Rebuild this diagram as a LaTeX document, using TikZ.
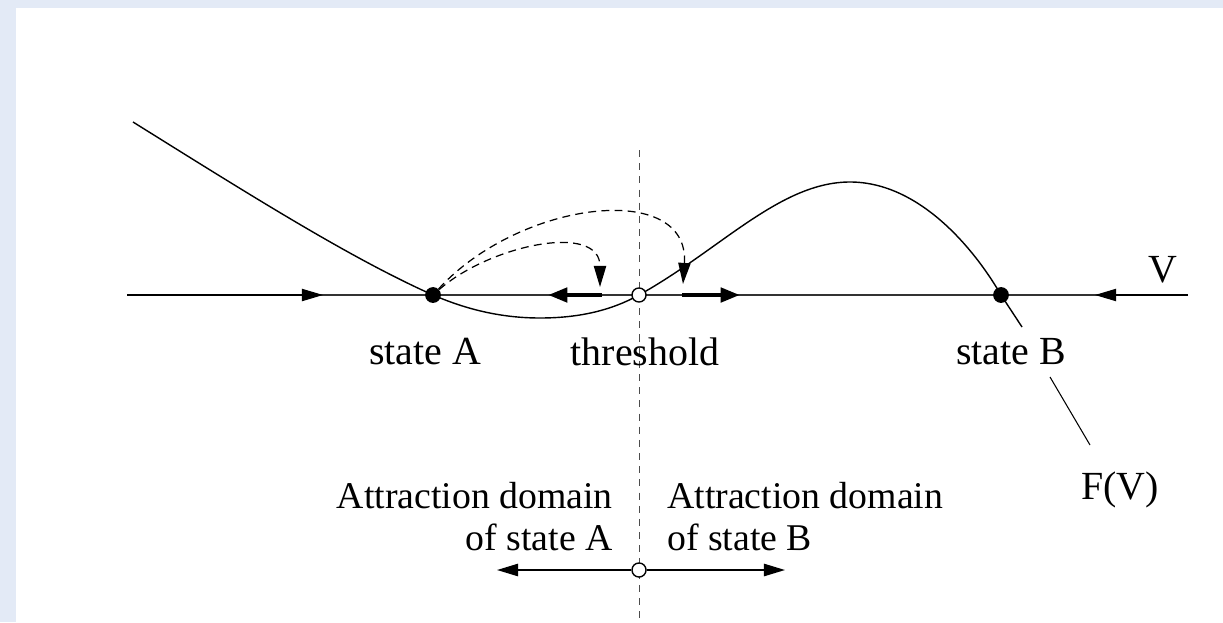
\documentclass[tikz,border=0pt]{standalone}
\usepackage{fontspec}
\setmainfont{Liberation Serif}
\usetikzlibrary{arrows.meta}
\definecolor{paper}{RGB}{227,234,246}
\begin{document}
\begin{tikzpicture}[x=0.02cm, y=-0.02cm, font=\fontsize{22.7}{24}\selectfont,
    dot/.style={circle, fill, inner sep=0pt, minimum size=9pt},
    opendot/.style={circle, draw, fill=white, inner sep=0pt, minimum size=8pt, line width=0.8pt},
    tri/.style={-{Triangle[length=12pt,width=7pt]}},
    label/.style={inner sep=0pt, align=center},
    domaintext/.style={inner sep=0pt, font=\fontsize{21.5}{24}\selectfont}]
        \fill[paper] (0,0) rectangle (1223,622);
        \fill[white] (16,8) rectangle (1223,622);
        \useasboundingbox (0,0) rectangle (1223,622);

        % axis and threshold line
        \coordinate (axleft) at (127,295);
        \coordinate (axright) at (1188,295);
        \coordinate (threshtop) at (639,150);
        \coordinate (threshbot) at (639,622);
        \draw[black!80, line width=0.6pt] (axleft) -- (axright);
        \draw[black!70, line width=0.5pt, dash pattern=on 4pt off 3.5pt] (threshtop) -- (threshbot);

        % F(V)
        \draw[line width=0.8pt] (133,122) .. controls (250,195) and (350,258) .. (433,295)
            .. controls (470,311) and (505,318) .. (540,318)
            .. controls (580,318) and (612,310) .. (639,295)
            .. controls (720,250) and (780,182) .. (850,182)
            .. controls (920,182) and (975,250) .. (1001,295) -- (1022,327);

        \node[dot] (stateA) at (433,295) {};
        \node[opendot] (thresh) at (639,295) {};
        \node[dot] (stateB) at (1001,295) {};

        \node[label] (labelA) at (425,352) {state A};
        \node[label] (labelT) at (645,352) {threshold};
        \node[label] (labelB) at (1011,352) {state B};
        \node[label] (labelV) at (1163,270) {V};
        \node[label] (labelF) at (1120,490) {F(V)};
        \coordinate (leadtop) at (1050,377);
        \coordinate (leadbot) at (1090,445);
        \draw[line width=0.6pt] (leadtop) -- (leadbot);

        % flow on the axis
        \coordinate (tipin) at (323,295);
        \coordinate (tipout) at (1095,295);
        \draw[tri, line width=0.6pt] (axleft) -- (tipin);
        \draw[tri, line width=0.6pt] (axright) -- (tipout);

        % jumps
        \coordinate (jumpsmall) at (600,287);
        \coordinate (jumpbig) at (683,284);
        \draw[tri, line width=0.7pt, dash pattern=on 4.5pt off 3pt] (stateA) .. controls (490,245) and (600,222) .. (jumpsmall);
        \draw[tri, line width=0.7pt, dash pattern=on 4.5pt off 3pt] (stateA) .. controls (520,200) and (690,180) .. (jumpbig);
        \coordinate (backstart) at (602,295);
        \coordinate (backtip) at (548,295);
        \coordinate (fwdstart) at (682,295);
        \coordinate (fwdtip) at (740,295);
        \draw[line width=2.5pt, -{Triangle[length=11pt,width=8pt]}] (backstart) -- (backtip);
        \draw[line width=2.5pt, -{Triangle[length=11pt,width=8pt]}] (fwdstart) -- (fwdtip);

        % domains
        \node[opendot] (split) at (639,570) {};
        \coordinate (domAtip) at (497,570);
        \coordinate (domBtip) at (785,570);
        \draw[tri, line width=1pt] (split) -- (domAtip);
        \draw[tri, line width=1pt] (split) -- (domBtip);
        \node[domaintext, anchor=base east] (domAtop) at (613,508) {Attraction domain};
        \node[domaintext, anchor=base east] (domAbot) at (613,550) {of state A};
        \node[domaintext, anchor=base west] (domBtop) at (667,508) {Attraction domain};
        \node[domaintext, anchor=base west] (domBbot) at (667,550) {of state B};
    \end{tikzpicture}
\end{document}
